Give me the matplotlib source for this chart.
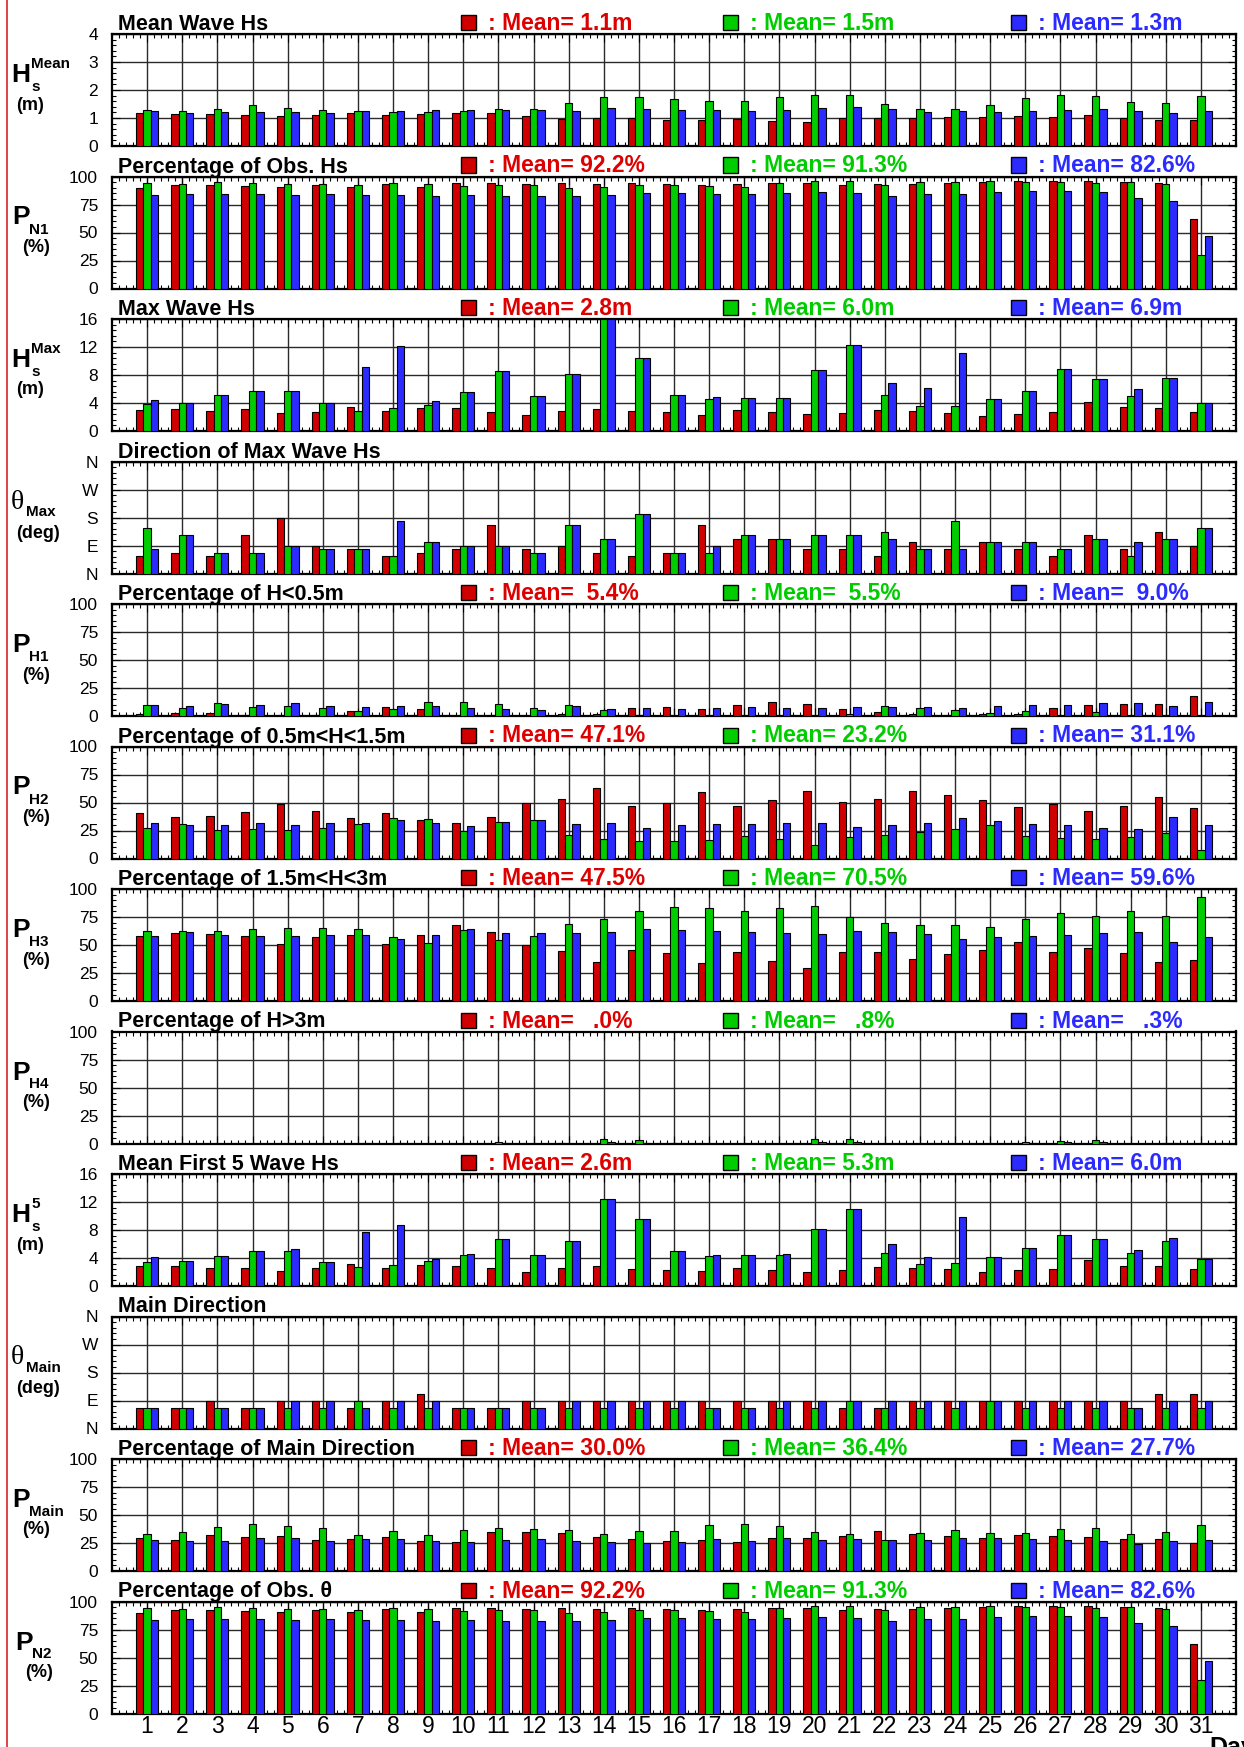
import matplotlib
matplotlib.use('Agg')
import matplotlib.pyplot as plt
from matplotlib.patches import Rectangle
from matplotlib.lines import Line2D
from matplotlib.ticker import MultipleLocator
import numpy as np

plt.rcParams['font.family'] = ['Liberation Sans', 'DejaVu Sans']

days = list(range(1, 32))

# --- data (red / green / blue series per panel) ---
hs_mean_red = [1.17, 1.14, 1.14, 1.10, 1.06, 1.10, 1.18, 1.10, 1.13, 1.19, 1.17, 1.06, 0.96, 0.99, 0.99, 0.93,
               0.93, 0.95, 0.89, 0.85, 1.01, 0.99, 0.99, 1.02, 1.02, 1.07, 1.02, 1.10, 1.01, 0.93, 0.94]
hs_mean_green = [1.30, 1.24, 1.31, 1.45, 1.36, 1.27, 1.24, 1.20, 1.23, 1.25, 1.32, 1.32, 1.54, 1.76, 1.74, 1.67,
                 1.60, 1.61, 1.74, 1.82, 1.81, 1.49, 1.31, 1.31, 1.45, 1.70, 1.82, 1.77, 1.57, 1.52, 1.77]
hs_mean_blue = [1.24, 1.19, 1.20, 1.21, 1.20, 1.17, 1.25, 1.25, 1.27, 1.27, 1.27, 1.27, 1.24, 1.35, 1.32, 1.27,
                1.30, 1.26, 1.29, 1.35, 1.38, 1.31, 1.21, 1.24, 1.21, 1.26, 1.30, 1.33, 1.26, 1.18, 1.26]

obs_red = [89.9, 92.2, 92.2, 91.3, 91.0, 92.2, 90.7, 93.1, 91.0, 94.0, 94.0, 93.4, 94.0, 93.1, 94.3, 93.7,
           92.2, 93.1, 94.3, 94.6, 92.8, 93.7, 93.7, 94.3, 95.2, 95.8, 95.8, 96.1, 95.2, 94.6, 61.8]
obs_green = [94.3, 93.4, 94.9, 94.3, 93.7, 93.1, 92.5, 94.0, 93.4, 91.6, 92.8, 92.5, 89.3, 90.4, 92.2, 92.2,
             91.9, 90.7, 94.3, 96.1, 95.8, 92.2, 94.9, 94.9, 95.8, 94.9, 95.2, 94.6, 95.2, 93.4, 29.6]
obs_blue = [83.3, 84.2, 84.2, 84.2, 83.3, 84.2, 83.3, 83.3, 82.7, 83.3, 82.4, 82.4, 82.4, 83.3, 85.1, 85.1,
            84.2, 84.2, 85.1, 86.6, 85.1, 82.4, 84.2, 84.8, 86.0, 86.9, 86.9, 86.0, 80.6, 78.2, 47.2]

hmax_red = [3.05, 3.19, 2.86, 3.14, 2.57, 2.67, 3.43, 2.90, 3.24, 3.29, 2.71, 2.24, 2.81, 3.10, 2.81, 2.67,
            2.29, 3.05, 2.71, 2.38, 2.52, 2.95, 2.81, 2.52, 2.10, 2.43, 2.67, 4.10, 3.38, 3.24, 2.67]
hmax_green = [3.90, 3.95, 5.10, 5.67, 5.67, 3.95, 2.81, 3.24, 3.67, 5.52, 8.52, 4.95, 8.10, 16.0, 10.4, 5.10,
              4.52, 4.76, 4.76, 8.67, 12.24, 5.10, 3.52, 3.52, 4.52, 5.71, 8.81, 7.38, 5.00, 7.52, 4.05]
hmax_blue = [4.38, 3.95, 5.10, 5.67, 5.67, 3.95, 9.10, 12.10, 4.24, 5.52, 8.52, 4.95, 8.10, 16.0, 10.4, 5.10,
             4.86, 4.76, 4.76, 8.67, 12.24, 6.81, 6.14, 11.10, 4.52, 5.71, 8.81, 7.38, 5.95, 7.52, 4.05]

dirmax_red = [56.25, 67.5, 56.25, 123.75, 180, 90, 78.75, 56.25, 67.5, 78.75, 157.5, 78.75, 90, 67.5, 56.25,
              67.5, 157.5, 112.5, 112.5, 78.75, 78.75, 56.25, 101.25, 78.75, 101.25, 78.75, 56.25, 123.75,
              78.75, 135, 90]
dirmax_green = [146.25, 123.75, 67.5, 67.5, 90, 78.75, 78.75, 56.25, 101.25, 90, 90, 67.5, 157.5, 112.5,
                191.25, 67.5, 67.5, 123.75, 112.5, 123.75, 123.75, 135, 78.75, 168.75, 101.25, 101.25, 78.75,
                112.5, 56.25, 112.5, 146.25]
dirmax_blue = [78.75, 123.75, 67.5, 67.5, 90, 78.75, 78.75, 168.75, 101.25, 90, 90, 67.5, 157.5, 112.5,
               191.25, 67.5, 90, 123.75, 112.5, 123.75, 123.75, 112.5, 78.75, 78.75, 101.25, 101.25, 78.75,
               112.5, 101.25, 112.5, 146.25]

ph1_red = [1.5, 2.4, 2.4, 0.9, 0.6, 0.6, 4.8, 7.8, 6.0, 0.3, 1.2, 0.3, 2.1, 2.1, 7.5, 7.8,
           6.6, 10.1, 12.2, 11.0, 6.6, 3.3, 2.1, 1.2, 2.1, 2.1, 7.5, 10.1, 10.7, 10.7, 18.2]
ph1_green = [10.1, 7.5, 11.6, 8.4, 9.0, 7.2, 4.8, 6.6, 12.8, 12.8, 10.7, 7.5, 9.6, 5.4, 0.9, 0.0,
             0.0, 0.0, 0.0, 0.0, 1.5, 9.3, 7.5, 5.7, 3.0, 4.5, 0.0, 3.9, 0.0, 0.0, 0.0]
ph1_blue = [9.6, 9.0, 10.4, 10.1, 11.9, 9.3, 7.8, 9.3, 9.3, 7.5, 6.6, 5.7, 8.7, 6.3, 7.5, 6.6,
            6.9, 8.1, 7.5, 7.5, 8.1, 8.4, 8.1, 7.5, 9.3, 10.1, 9.9, 11.6, 11.9, 9.3, 12.5]

ph2_red = [40.3, 37.0, 38.2, 41.2, 48.4, 42.1, 35.8, 40.9, 34.6, 31.9, 37.3, 49.9, 53.4, 62.7, 47.2, 49.3,
           59.7, 46.6, 52.5, 60.3, 50.1, 52.8, 60.3, 56.7, 52.2, 45.7, 49.0, 42.7, 46.6, 54.6, 45.1]
ph2_green = [27.5, 30.4, 25.7, 26.6, 25.4, 27.5, 30.4, 36.4, 35.5, 24.2, 32.8, 34.6, 20.9, 17.6, 15.5, 15.2,
             16.7, 19.7, 17.0, 11.9, 19.4, 20.6, 23.9, 26.6, 30.1, 20.3, 18.5, 17.0, 19.4, 23.0, 7.5]
ph2_blue = [31.9, 29.6, 30.1, 31.6, 29.9, 31.6, 31.9, 34.0, 31.6, 29.0, 32.5, 34.6, 31.0, 31.9, 27.5, 30.1,
            30.4, 31.0, 31.9, 31.6, 28.4, 30.1, 31.9, 36.1, 33.4, 31.0, 30.1, 26.9, 26.6, 37.0, 30.1]

ph3_red = [58.2, 60.6, 59.7, 57.9, 50.7, 57.3, 59.1, 51.0, 59.1, 67.5, 61.5, 49.9, 44.2, 34.9, 45.7, 42.7,
           33.7, 43.6, 35.5, 29.3, 43.6, 43.9, 37.9, 42.1, 45.7, 52.5, 43.6, 47.2, 42.7, 34.6, 36.7]
ph3_green = [62.4, 62.1, 62.7, 64.5, 65.1, 65.1, 64.2, 56.7, 51.9, 63.3, 54.3, 57.9, 68.4, 72.8, 80.3, 83.6,
             83.3, 80.3, 83.0, 84.8, 74.9, 69.9, 68.1, 67.8, 66.3, 73.4, 78.5, 76.1, 80.3, 75.8, 92.8]
ph3_blue = [57.9, 61.2, 58.8, 57.9, 57.6, 59.1, 59.1, 55.8, 58.8, 63.9, 60.6, 60.3, 60.3, 61.2, 64.2, 63.3,
            62.7, 61.5, 60.6, 60.0, 62.4, 61.5, 59.7, 55.8, 57.0, 58.2, 59.1, 60.9, 61.5, 52.5, 57.3]

ph4_red = [0, 0, 0, 0, 0, 0, 0, 0, 0, 0, 0, 0, 0.3, 0, 0, 0,
           0, 0, 0, 0, 0, 0, 0, 0, 0, 0, 0, 0, 0, 0, 0]
ph4_green = [0, 0, 0, 0, 0, 0, 0, 0, 0, 0, 1.5, 0, 0, 3.6, 2.7, 0.3,
             0, 0, 0, 3.6, 4.2, 0, 0, 0, 0, 1.5, 2.4, 2.7, 0, 0.6, 0]
ph4_blue = [0, 0, 0, 0, 0, 0, 0.3, 0.3, 0, 0, 0.3, 0, 0, 0.9, 0.6, 0,
            0, 0, 0, 1.2, 1.5, 0, 0, 0, 0, 0.3, 0.9, 0.9, 0, 0.3, 0]

h5_red = [2.91, 2.87, 2.63, 2.53, 2.20, 2.53, 3.15, 2.63, 3.01, 2.82, 2.63, 2.05, 2.53, 2.87, 2.39, 2.34,
          2.15, 2.63, 2.24, 1.96, 2.34, 2.77, 2.63, 2.39, 2.01, 2.34, 2.48, 3.77, 2.91, 2.91, 2.44]
h5_green = [3.39, 3.63, 4.30, 5.06, 5.06, 3.49, 2.77, 3.01, 3.63, 4.49, 6.78, 4.39, 6.49, 12.5, 9.6, 5.01,
            4.30, 4.44, 4.44, 8.17, 10.98, 4.68, 3.15, 3.30, 4.20, 5.44, 7.31, 6.73, 4.68, 6.45, 3.87]
h5_blue = [4.11, 3.63, 4.30, 5.06, 5.30, 3.49, 7.74, 8.69, 3.92, 4.58, 6.78, 4.39, 6.49, 12.5, 9.6, 5.01,
           4.44, 4.44, 4.58, 8.17, 10.98, 6.02, 4.15, 9.79, 4.20, 5.44, 7.31, 6.73, 5.21, 6.88, 3.92]

dmain_red = [67.5, 67.5, 90, 67.5, 90, 90, 67.5, 90, 112.5, 67.5, 67.5, 90, 90, 90, 90, 90,
             90, 90, 90, 90, 67.5, 67.5, 90, 90, 90, 90, 90, 90, 90, 112.5, 112.5]
dmain_green = [67.5, 67.5, 67.5, 67.5, 67.5, 67.5, 90, 67.5, 67.5, 67.5, 67.5, 67.5, 67.5, 67.5, 67.5, 67.5,
               67.5, 67.5, 67.5, 67.5, 90, 67.5, 67.5, 67.5, 90, 67.5, 67.5, 67.5, 67.5, 67.5, 67.5]
dmain_blue = [67.5, 67.5, 67.5, 67.5, 90, 90, 67.5, 90, 90, 67.5, 67.5, 67.5, 90, 90, 90, 90,
              67.5, 67.5, 90, 90, 90, 90, 90, 90, 90, 90, 90, 90, 67.5, 90, 90]

pmain_red = [29.1, 27.3, 32.3, 30.6, 31.5, 27.9, 28.5, 30.0, 26.4, 25.5, 35.0, 34.7, 34.1, 30.3, 28.8, 27.0,
             27.9, 26.1, 29.7, 29.7, 30.9, 35.9, 33.2, 31.5, 29.1, 32.3, 31.5, 30.6, 28.2, 28.8, 25.2]
pmain_green = [33.2, 35.0, 39.2, 42.1, 40.4, 38.6, 32.3, 35.9, 31.8, 36.8, 38.6, 37.7, 36.2, 33.2, 35.9, 35.9,
               40.9, 42.1, 40.4, 35.0, 32.6, 27.9, 34.1, 36.8, 34.1, 34.1, 37.4, 38.0, 33.2, 35.0, 41.2]
pmain_blue = [27.9, 26.4, 27.0, 29.7, 29.7, 27.0, 28.8, 28.8, 27.0, 26.1, 27.9, 28.8, 27.0, 26.1, 24.9, 26.1,
              28.2, 27.0, 29.7, 27.9, 28.8, 27.3, 27.9, 29.7, 29.1, 28.8, 27.9, 26.7, 24.3, 26.7, 27.3]

titles = ['Mean Wave Hs', 'Percentage of Obs. Hs', 'Max Wave Hs', 'Direction of Max Wave Hs',
          'Percentage of H<0.5m', 'Percentage of 0.5m<H<1.5m', 'Percentage of 1.5m<H<3m',
          'Percentage of H>3m', 'Mean First 5 Wave Hs', 'Main Direction',
          'Percentage of Main Direction', 'Percentage of Obs. \u03b8']
mean_labels = [['1.1m', '1.5m', '1.3m'], ['92.2%', '91.3%', '82.6%'], ['2.8m', '6.0m', '6.9m'], None,
               [' 5.4%', ' 5.5%', ' 9.0%'], ['47.1%', '23.2%', '31.1%'], ['47.5%', '70.5%', '59.6%'],
               ['  .0%', '  .8%', '  .3%'], ['2.6m', '5.3m', '6.0m'], None,
               ['30.0%', '36.4%', '27.7%'], ['92.2%', '91.3%', '82.6%']]
# (main letter, superscript, subscript, unit)
ylabels = [('H', 'Mean', 's', '(m)'), ('P', '', 'N1', '(%)'), ('H', 'Max', 's', '(m)'),
           ('\u03b8', '', 'Max', '(deg)'), ('P', '', 'H1', '(%)'), ('P', '', 'H2', '(%)'),
           ('P', '', 'H3', '(%)'), ('P', '', 'H4', '(%)'), ('H', '5', 's', '(m)'),
           ('\u03b8', '', 'Main', '(deg)'), ('P', '', 'Main', '(%)'), ('P', '', 'N2', '(%)')]

series = [(hs_mean_red, hs_mean_green, hs_mean_blue), (obs_red, obs_green, obs_blue),
          (hmax_red, hmax_green, hmax_blue), (dirmax_red, dirmax_green, dirmax_blue),
          (ph1_red, ph1_green, ph1_blue), (ph2_red, ph2_green, ph2_blue),
          (ph3_red, ph3_green, ph3_blue), (ph4_red, ph4_green, ph4_blue),
          (h5_red, h5_green, h5_blue), (dmain_red, dmain_green, dmain_blue),
          (pmain_red, pmain_green, pmain_blue), (obs_red, obs_green, obs_blue)]
kinds = ['m4', 'pct', 'm16', 'dir', 'pct', 'pct', 'pct', 'pct', 'm16', 'dir', 'pct', 'pct']

colors = ['#d00000', '#00cc00', '#2b2bff']
text_colors = ['#dd0000', '#00cc00', '#2b2bff']

W, H = 1244, 1747


def fx(px):
    return px / W


def fy(py):
    return 1 - py / H


fig = plt.figure(figsize=(W / 100, H / 100), dpi=100)
fig.patch.set_facecolor('white')

left, right = 112, 1236
height = 112
x = np.array(days)
bw = 0.21

for i in range(12):
    top = 34 + 142.5 * i
    ax = fig.add_axes([fx(left), fy(top + height), fx(right - left), height / H])
    red, green, blue = series[i]
    for off, vals, c in [(-bw, red, colors[0]), (0, green, colors[1]), (bw, blue, colors[2])]:
        ax.bar(x + off, vals, width=bw, color=c, edgecolor='black', linewidth=0.8, zorder=3)

    ax.set_xlim(0, 32)
    ax.set_xticks(days)
    ax.xaxis.set_minor_locator(MultipleLocator(0.2))
    kind = kinds[i]
    if kind == 'm4':
        ax.set_ylim(0, 4)
        ax.set_yticks([0, 1, 2, 3, 4])
        ax.yaxis.set_minor_locator(MultipleLocator(0.2))
    elif kind == 'm16':
        ax.set_ylim(0, 16)
        ax.set_yticks([0, 4, 8, 12, 16])
        ax.yaxis.set_minor_locator(MultipleLocator(0.8))
    elif kind == 'pct':
        ax.set_ylim(0, 100)
        ax.set_yticks([0, 25, 50, 75, 100])
        ax.yaxis.set_minor_locator(MultipleLocator(5))
    else:
        ax.set_ylim(0, 360)
        ax.set_yticks([0, 90, 180, 270, 360])
        ax.set_yticklabels(['N', 'E', 'S', 'W', 'N'])
        ax.yaxis.set_minor_locator(MultipleLocator(18))

    ax.grid(True, which='major', color='#2a2a2a', linewidth=1.0, zorder=0)
    ax.set_axisbelow(True)
    ax.tick_params(which='both', direction='in', top=True, right=True, width=0.8)
    ax.tick_params(which='major', length=6)
    ax.tick_params(which='minor', length=3)
    ax.tick_params(axis='y', labelsize=12.5, pad=10)
    for s in ax.spines.values():
        s.set_linewidth(1.6)
    if i == 11:
        ax.tick_params(axis='x', labelsize=16.5, pad=1)
    else:
        ax.tick_params(axis='x', labelbottom=False)

    # title and mean legend above the panel
    base = top - 4
    fig.text(fx(118), fy(base), titles[i], fontsize=15.5, fontweight='bold', va='baseline', ha='left')
    if mean_labels[i] is not None:
        for xs, lab, c, tc in zip([461, 723, 1011], mean_labels[i], colors, text_colors):
            fig.patches.append(Rectangle((fx(xs), fy(base)), 15 / W, 15 / H, transform=fig.transFigure,
                                         facecolor=c, edgecolor='black', linewidth=1.0))
            fig.text(fx(xs + 27), fy(base), ': Mean= ' + lab, color=tc, fontsize=16.5,
                     fontweight='bold', va='baseline', ha='left')

    # left label
    cy = top + height / 2
    main, sup, sub, unit = ylabels[i]
    if main == '\u03b8':
        fig.text(fx(11), fy(cy - 15), main, fontsize=20, family=['Liberation Serif', 'DejaVu Serif'],
                 va='center', ha='left')
        fig.text(fx(26), fy(cy - 5), sub, fontsize=11, fontweight='bold', va='center', ha='left')
        fig.text(fx(38), fy(cy + 16), unit, fontsize=13, fontweight='bold', va='center', ha='center')
    elif main == 'H':
        fig.text(fx(11), fy(cy - 15), main, fontsize=19, fontweight='bold', va='center', ha='left')
        fig.text(fx(31), fy(cy - 26), sup, fontsize=11, fontweight='bold', va='center', ha='left')
        fig.text(fx(31), fy(cy - 3), sub, fontsize=11, fontweight='bold', va='center', ha='left')
        fig.text(fx(30), fy(cy + 15), unit, fontsize=13, fontweight='bold', va='center', ha='center')
    else:
        px0 = 15 if sub == 'N2' else 12
        fig.text(fx(px0), fy(cy - 15), main, fontsize=19, fontweight='bold', va='center', ha='left')
        fig.text(fx(px0 + 17), fy(cy - 3), sub, fontsize=11, fontweight='bold', va='center', ha='left')
        fig.text(fx(px0 + 24), fy(cy + 15), unit, fontsize=13, fontweight='bold', va='center', ha='center')

# thin red border line on the left
fig.add_artist(Line2D([fx(7), fx(7)], [0, 1], color='#dd2222', linewidth=1.2))

# axis title sits at the bottom-right corner, partly cut off as in the source image
fig.text(fx(1209), fy(1736), 'Day', fontsize=18, fontweight='bold', va='top', ha='left')

fig.savefig('out.png', dpi=100)
plt.close(fig)
